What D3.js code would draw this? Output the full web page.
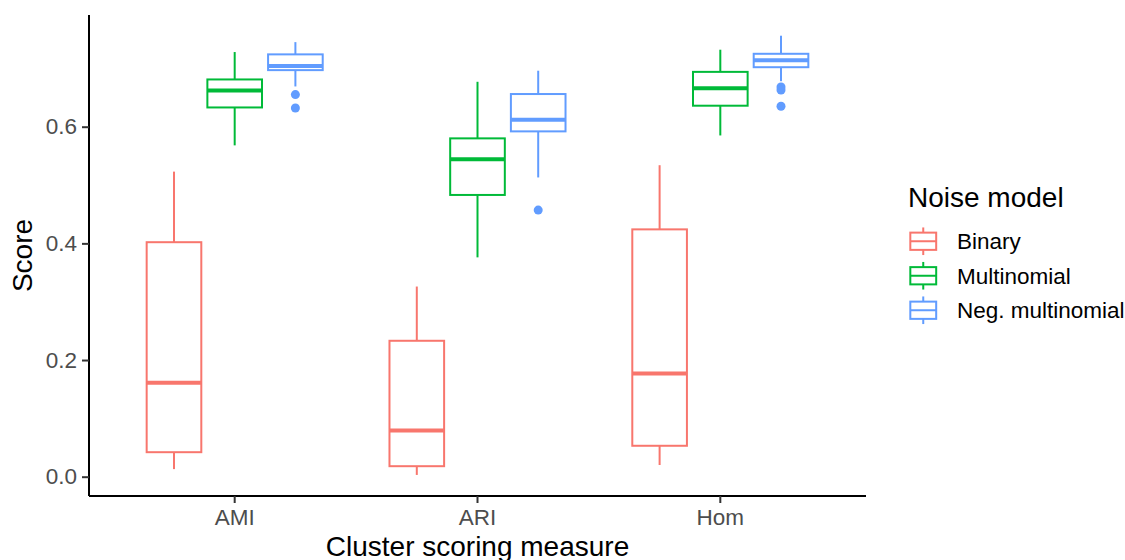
<!DOCTYPE html>
<html>
<head>
<meta charset="utf-8">
<script src="https://cdn.jsdelivr.net/npm/d3@7"></script>
<style>
  body { margin: 0; background: #fff; }
  text { font-family: "Liberation Sans", Arial, sans-serif; }
</style>
</head>
<body>
<div id="chart"></div>
<script>
const categories = ["AMI", "ARI", "Hom"];
const groups = ["Binary", "Multinomial", "Neg. multinomial"];
const colors = ["#F8766D", "#00BA38", "#619CFF"];
const yTicks = [0.0, 0.2, 0.4, 0.6];

// five-number summaries per group, one entry per category
const binaryStats = [
  [0.013, 0.042, 0.161, 0.402, 0.523],
  [0.003, 0.018, 0.079, 0.233, 0.326],
  [0.020, 0.053, 0.177, 0.424, 0.534]
];
const multinomialStats = [
  [0.568, 0.633, 0.662, 0.681, 0.728],
  [0.376, 0.483, 0.544, 0.580, 0.677],
  [0.585, 0.636, 0.666, 0.694, 0.732]
];
const negMultinomialStats = [
  [0.669, 0.697, 0.704, 0.724, 0.745],
  [0.513, 0.592, 0.612, 0.656, 0.696],
  [0.678, 0.702, 0.714, 0.725, 0.756]
];
const binaryOutliers = [[], [], []];
const multinomialOutliers = [[], [], []];
const negMultinomialOutliers = [[0.655, 0.632], [0.457], [0.668, 0.663, 0.635]];

const statsByGroup = [binaryStats, multinomialStats, negMultinomialStats];
const outliersByGroup = [binaryOutliers, multinomialOutliers, negMultinomialOutliers];

const width = 1125, height = 560;
const margin = {top: 15, left: 89};
const plotRight = 866, plotBottom = 496;

const svg = d3.select("#chart").append("svg")
  .attr("width", width)
  .attr("height", height);

const x = d3.scaleBand()
  .domain(categories)
  .range([margin.left, plotRight])
  .paddingInner(0)
  .paddingOuter(0.1);

const xSub = d3.scaleBand()
  .domain(groups)
  .range([-0.375 * x.bandwidth(), 0.375 * x.bandwidth()]);

const y = d3.scaleLinear()
  .domain([-0.0331, 0.7915])
  .range([plotBottom, margin.top]);

const boxW = 0.9 * xSub.bandwidth();

// boxes
const boxes = [];
groups.forEach((g, gi) => {
  categories.forEach((c, ci) => {
    const s = statsByGroup[gi][ci];
    boxes.push({g, gi, c, lo: s[0], q1: s[1], med: s[2], q3: s[3], hi: s[4], out: outliersByGroup[gi][ci]});
  });
});

const bg = svg.selectAll("g.box").data(boxes)
  .join("g")
  .classed("box", true)
  .attr("transform", d => `translate(${x(d.c) + x.bandwidth() / 2 + xSub(d.g) + xSub.bandwidth() / 2},0)`);

bg.append("line")
  .attr("x1", 0).attr("x2", 0)
  .attr("y1", d => y(d.hi)).attr("y2", d => y(d.q3))
  .attr("stroke", d => colors[d.gi]).attr("stroke-width", 2);

bg.append("line")
  .attr("x1", 0).attr("x2", 0)
  .attr("y1", d => y(d.q1)).attr("y2", d => y(d.lo))
  .attr("stroke", d => colors[d.gi]).attr("stroke-width", 2);

bg.append("rect")
  .attr("x", -boxW / 2)
  .attr("width", boxW)
  .attr("y", d => y(d.q3))
  .attr("height", d => y(d.q1) - y(d.q3))
  .attr("fill", "#fff")
  .attr("stroke", d => colors[d.gi])
  .attr("stroke-width", 2);

bg.append("line")
  .attr("x1", -boxW / 2).attr("x2", boxW / 2)
  .attr("y1", d => y(d.med)).attr("y2", d => y(d.med))
  .attr("stroke", d => colors[d.gi]).attr("stroke-width", 4);

bg.selectAll("circle").data(d => d.out.map(v => ({v, gi: d.gi})))
  .join("circle")
  .attr("cx", 0)
  .attr("cy", d => y(d.v))
  .attr("r", 4.5)
  .attr("fill", d => colors[d.gi]);

// axes
const yAxis = svg.append("g")
  .attr("transform", `translate(${margin.left},0)`)
  .call(d3.axisLeft(y).tickValues(yTicks).tickFormat(d3.format(".1f")).tickSize(7).tickPadding(5));
yAxis.select(".domain").attr("d", `M0,${margin.top}V${plotBottom}`);

const xAxis = svg.append("g")
  .attr("transform", `translate(0,${plotBottom})`)
  .call(d3.axisBottom(x).tickSize(7).tickPadding(6));
xAxis.select(".domain").attr("d", `M${margin.left},0H${plotRight}`);

[yAxis, xAxis].forEach(a => {
  a.select(".domain").attr("stroke", "#000").attr("stroke-width", 2);
  a.selectAll(".tick line").attr("stroke", "#333").attr("stroke-width", 2);
  a.selectAll(".tick text").attr("fill", "#4d4d4d").attr("font-size", 22.5)
    .style("font-family", "Liberation Sans, Arial, sans-serif");
});

// axis titles
svg.append("text")
  .attr("x", (margin.left + plotRight) / 2)
  .attr("y", 556)
  .attr("text-anchor", "middle")
  .attr("font-size", 28)
  .attr("fill", "#000")
  .text("Cluster scoring measure");

svg.append("text")
  .attr("transform", `translate(32,${(margin.top + plotBottom) / 2}) rotate(-90)`)
  .attr("text-anchor", "middle")
  .attr("font-size", 28)
  .attr("fill", "#000")
  .text("Score");

// legend
const legend = svg.append("g").attr("transform", "translate(906,0)");
legend.append("text")
  .attr("x", 2)
  .attr("y", 207)
  .attr("font-size", 28)
  .attr("fill", "#000")
  .text("Noise model");

const keySize = 34.5;
const keys = legend.selectAll("g.key").data(groups)
  .join("g")
  .classed("key", true)
  .attr("transform", (d, i) => `translate(0,${224 + i * keySize})`);

keys.append("line")
  .attr("x1", keySize / 2).attr("x2", keySize / 2)
  .attr("y1", keySize * 0.1).attr("y2", keySize * 0.9)
  .attr("stroke", (d, i) => colors[i]).attr("stroke-width", 2);
keys.append("rect")
  .attr("x", keySize * 0.125).attr("width", keySize * 0.75)
  .attr("y", keySize * 0.25).attr("height", keySize * 0.5)
  .attr("fill", "#fff")
  .attr("stroke", (d, i) => colors[i]).attr("stroke-width", 2);
keys.append("line")
  .attr("x1", keySize * 0.125).attr("x2", keySize * 0.875)
  .attr("y1", keySize / 2).attr("y2", keySize / 2)
  .attr("stroke", (d, i) => colors[i]).attr("stroke-width", 2);
keys.append("text")
  .attr("x", 51)
  .attr("y", keySize / 2)
  .attr("dy", "0.36em")
  .attr("font-size", 22.5)
  .attr("fill", "#000")
  .text(d => d);
</script>
</body>
</html>
